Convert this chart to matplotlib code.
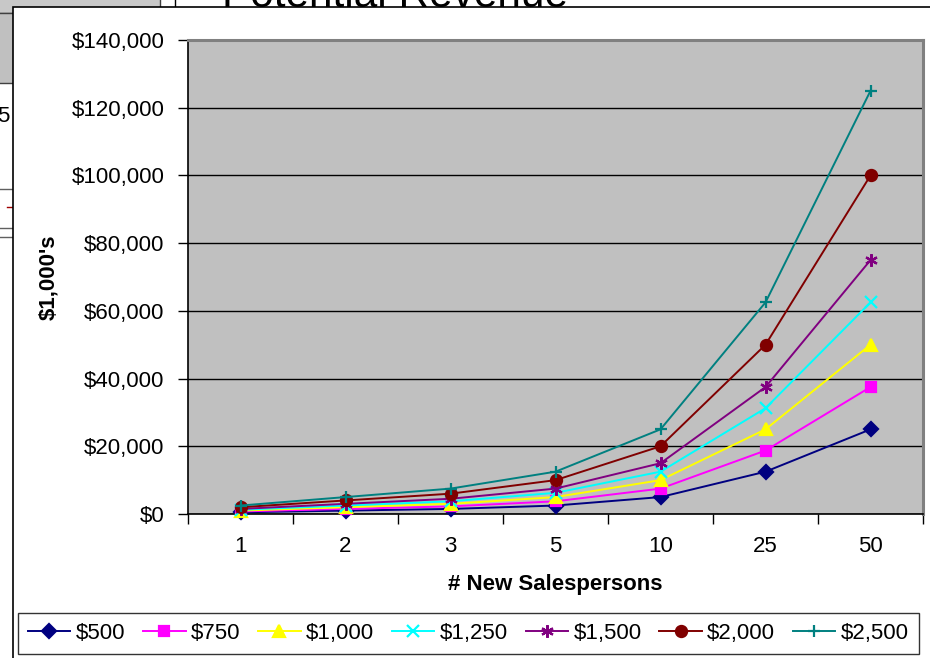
import matplotlib
matplotlib.use("Agg")
import matplotlib.pyplot as plt
from matplotlib.patches import Rectangle
from matplotlib.lines import Line2D
import numpy as np

plt.rcParams['font.family'] = ['Liberation Sans', 'DejaVu Sans']

categories = ['1', '2', '3', '5', '10', '25', '50']
series_names = ['$500', '$750', '$1,000', '$1,250', '$1,500', '$2,000', '$2,500']
v500 = [500, 1000, 1500, 2500, 5000, 12500, 25000]
v750 = [750, 1500, 2250, 3750, 7500, 18750, 37500]
v1000 = [1000, 2000, 3000, 5000, 10000, 25000, 50000]
v1250 = [1250, 2500, 3750, 6250, 12500, 31250, 62500]
v1500 = [1500, 3000, 4500, 7500, 15000, 37500, 75000]
v2000 = [2000, 4000, 6000, 10000, 20000, 50000, 100000]
v2500 = [2500, 5000, 7500, 12500, 25000, 62500, 125000]
series_values = [v500, v750, v1000, v1250, v1500, v2000, v2500]
y_ticks = [0, 20000, 40000, 60000, 80000, 100000, 120000, 140000]
y_tick_labels = ['$0', '$20,000', '$40,000', '$60,000', '$80,000', '$100,000', '$120,000', '$140,000']

colors = ['#000080', '#FF00FF', '#FFFF00', '#00FFFF', '#800080', '#800000', '#008080']
markers = ['D', 's', '^', 'x', (6, 2, 0), 'o', '+']
msizes = [7, 7, 8, 8, 9, 8, 9]

W, H = 930, 658
fig = plt.figure(figsize=(W / 100, H / 100), dpi=100)


def px_rect(x0, y0, x1, y1, **kw):
    r = Rectangle((x0 / W, 1 - y1 / H), (x1 - x0) / W, (y1 - y0) / H,
                  transform=fig.transFigure, **kw)
    fig.add_artist(r)
    return r


def px_line(xs, ys, **kw):
    l = Line2D([x / W for x in xs], [1 - y / H for y in ys],
               transform=fig.transFigure, **kw)
    fig.add_artist(l)
    return l


# background slide elements (behind the chart object)
px_rect(-2, -2, 160, 13, facecolor='#c8c8c8', edgecolor='#404040', lw=1, zorder=0.1)
px_rect(-2, 13, 160, 83, facecolor='#c0c0c0', edgecolor='#404040', lw=1, zorder=0.1)
px_line([175, 175], [0, 8], color='black', lw=1, zorder=0.1)
fig.text(-3 / W, 1 - 122 / H, '5', fontsize=16, ha='left', va='baseline', zorder=0.1)
px_line([0, 13], [189, 189], color='#606060', lw=1, zorder=0.1)
px_line([7, 12], [207, 207], color='#a00000', lw=1, zorder=0.1)
px_line([0, 13], [228, 228], color='#606060', lw=1, zorder=0.1)
px_line([0, 13], [237, 237], color='#606060', lw=1, zorder=0.1)
fig.text(222 / W, 1 - 7 / H, 'Potential Revenue', fontsize=30.5, ha='left',
         va='baseline', zorder=0.2)

# chart object box
px_rect(13, 7, 940, 670, facecolor='white', edgecolor='black', lw=1.2, zorder=0.5)

ax = fig.add_axes([188 / W, 1 - 514 / H, (923 - 188) / W, (514 - 40) / H], zorder=1)
ax.set_facecolor('#C0C0C0')

x = np.arange(len(categories))
for vals, name, c, m, ms in zip(series_values, series_names, colors, markers, msizes):
    ax.plot(x, vals, color=c, lw=1.4, marker=m, markersize=ms,
            markerfacecolor=c, markeredgecolor=c, markeredgewidth=1.6,
            label=name, zorder=3, clip_on=False)

ax.set_xlim(-0.5, len(categories) - 0.5)
ax.set_ylim(0, 140000)
ax.set_yticks(y_ticks)
ax.set_yticklabels(y_tick_labels, fontsize=16)
ax.set_xticks(x)
ax.set_xticklabels(categories, fontsize=16)
ax.set_xticks(np.arange(-0.5, len(categories), 1.0), minor=True)
ax.tick_params(axis='x', which='major', length=0, pad=16)
ax.tick_params(axis='x', which='minor', length=7, width=1, direction='out', color='black')
ax.tick_params(axis='y', length=7, width=1, direction='out', pad=10, color='black')

ax.yaxis.grid(True, color='black', lw=1)
ax.set_axisbelow(True)
for s in ['top', 'right']:
    ax.spines[s].set_color('#808080')
    ax.spines[s].set_linewidth(2.2)
for s in ['left', 'bottom']:
    ax.spines[s].set_color('black')
    ax.spines[s].set_linewidth(1.2)

ax.set_xlabel('# New Salespersons', fontsize=16, fontweight='bold', labelpad=12)
ax.set_ylabel("$1,000's", fontsize=16, fontweight='bold', labelpad=9)

handles, labels = ax.get_legend_handles_labels()
leg = fig.legend(handles, labels, loc='center', ncol=7,
                 bbox_to_anchor=(468.5 / W, 1 - 633.5 / H),
                 fontsize=16, frameon=True, fancybox=False, edgecolor='black',
                 handlelength=1.9, handletextpad=0.25, columnspacing=0.8,
                 borderpad=0.45, borderaxespad=0)
leg.get_frame().set_linewidth(1)

fig.savefig('out.png', dpi=100)
